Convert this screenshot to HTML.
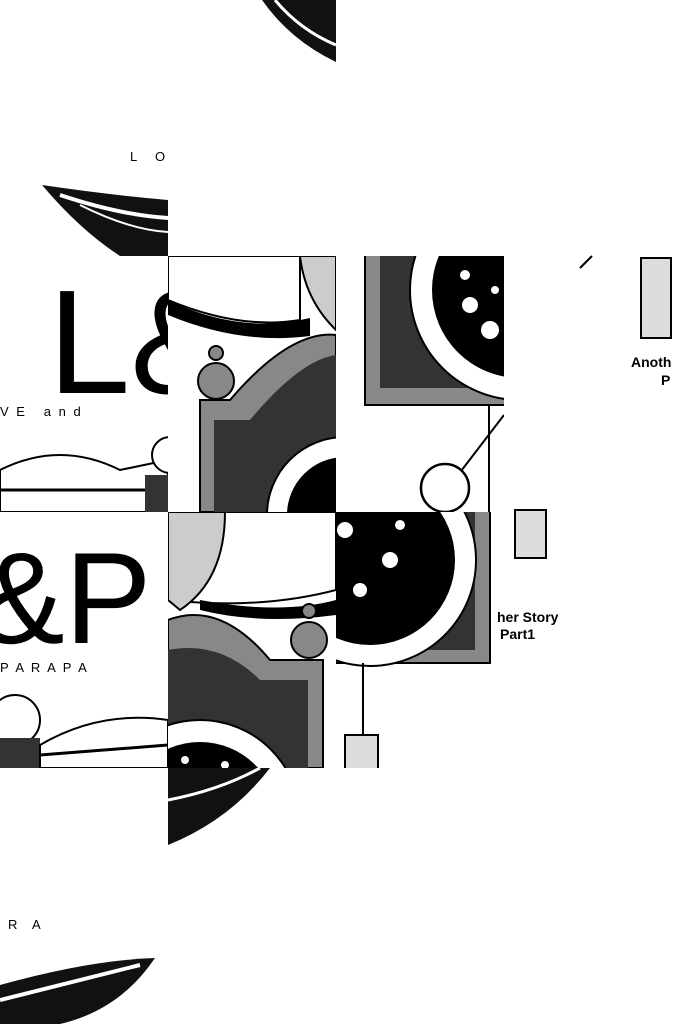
<!DOCTYPE html>
<html><head><style>
html,body{margin:0;padding:0;background:#fff;width:698px;height:1024px;overflow:hidden}
svg{display:block}
text{font-family:"Liberation Sans",sans-serif}
</style></head><body>
<svg width="698" height="1024" viewBox="0 0 698 1024" xmlns="http://www.w3.org/2000/svg">
<defs>
<clipPath id="tA"><rect x="168" y="256" width="168" height="256"/></clipPath>
<clipPath id="tB"><rect x="336" y="256" width="168" height="256"/></clipPath>
<clipPath id="tC"><rect x="168" y="512" width="168" height="256"/></clipPath>
<clipPath id="tD"><rect x="336" y="512" width="168" height="256"/></clipPath>
<clipPath id="t0"><rect x="0" y="0" width="336" height="256"/></clipPath>
<clipPath id="tE"><rect x="0" y="256" width="168" height="256"/></clipPath>
<clipPath id="tF"><rect x="0" y="512" width="168" height="256"/></clipPath>
<clipPath id="tG"><rect x="168" y="768" width="168" height="256"/></clipPath>
<clipPath id="tH"><rect x="0" y="768" width="168" height="256"/></clipPath>
</defs>

<g clip-path="url(#t0)">
<path d="M262 0 Q290 40 336 62 L336 0 Z" fill="#111"/>
<path d="M275 0 Q300 30 336 45" stroke="#fff" stroke-width="3" fill="none"/>
<path d="M42 185 Q110 195 168 200 L168 256 L120 256 Q80 230 42 185Z" fill="#111"/>
<path d="M60 195 Q120 215 168 218" stroke="#fff" stroke-width="4" fill="none"/>
<path d="M80 205 Q130 230 168 232" stroke="#fff" stroke-width="2" fill="none"/>
</g>
<text x="130" y="161" font-size="13">L</text><text x="155" y="161" font-size="13">O</text>

<g clip-path="url(#tE)">
<text x="48" y="393" font-size="148" font-weight="300">L&amp;</text>
<text x="0" y="416" font-size="13" letter-spacing="2">V E &#160;&#160;a n d</text>
<path d="M0 470 Q60 440 120 470 L168 460 L168 512 L0 512Z" fill="#fff" stroke="#000" stroke-width="2"/>
<path d="M0 490 L168 490" stroke="#000" stroke-width="3"/>
<circle cx="170" cy="455" r="18" fill="#fff" stroke="#000" stroke-width="2"/>
<rect x="145" y="475" width="40" height="37" fill="#333"/>
</g>

<g clip-path="url(#tA)">
<path d="M168 256 L300 256 L300 320 Q240 330 168 300Z" fill="#fff" stroke="#000" stroke-width="2"/>
<path d="M168 300 Q240 335 310 318 L310 336 Q240 345 168 315Z" fill="#000"/>
<path d="M300 256 L336 256 L336 330 Q305 300 300 256Z" fill="#ccc" stroke="#000" stroke-width="2"/>
<circle cx="216" cy="353" r="7" fill="#888" stroke="#000" stroke-width="2"/>
<circle cx="216" cy="381" r="18" fill="#888" stroke="#000" stroke-width="2"/>
<path d="M200 400 L230 400 Q290 330 336 335 L336 512 L200 512Z" fill="#888" stroke="#000" stroke-width="2"/>
<path d="M214 420 L250 420 Q300 360 336 355 L336 512 L214 512Z" fill="#333"/>
<circle cx="345" cy="515" r="78" fill="#fff" stroke="#000" stroke-width="2"/>
<circle cx="345" cy="515" r="58" fill="#000"/>
</g>

<g clip-path="url(#tB)">
<rect x="365" y="230" width="160" height="175" fill="#888" stroke="#000" stroke-width="2"/>
<rect x="380" y="230" width="140" height="158" fill="#333"/>
<circle cx="520" cy="290" r="110" fill="#fff" stroke="#000" stroke-width="2"/>
<circle cx="520" cy="290" r="88" fill="#000"/>
<circle cx="470" cy="305" r="8" fill="#fff"/><circle cx="490" cy="330" r="9" fill="#fff"/><circle cx="465" cy="275" r="5" fill="#fff"/><circle cx="495" cy="290" r="4" fill="#fff"/>
<line x1="489" y1="405" x2="489" y2="512" stroke="#000" stroke-width="2"/>
<line x1="504" y1="415" x2="458" y2="475" stroke="#000" stroke-width="2"/>
<circle cx="445" cy="488" r="24" fill="#fff" stroke="#000" stroke-width="2.5"/>
</g>

<rect x="641" y="258" width="30" height="80" fill="#ddd" stroke="#000" stroke-width="2"/>
<path d="M580 268 L592 256" stroke="#000" stroke-width="2"/>
<text x="631" y="367" font-size="14" font-weight="bold">Anoth</text>
<text x="661" y="385" font-size="14" font-weight="bold">P</text>

<g clip-path="url(#tF)">
<text x="-22" y="643" font-size="130" font-weight="300">&amp;P</text>
<text x="0" y="672" font-size="13" letter-spacing="2">P A R A P A</text>
<circle cx="15" cy="720" r="25" fill="#fff" stroke="#000" stroke-width="2"/>
<rect x="0" y="738" width="40" height="30" fill="#333"/>
<path d="M40 745 Q100 710 168 720 L168 768 L40 768Z" fill="#fff" stroke="#000" stroke-width="2"/>
<path d="M40 755 L168 745" stroke="#000" stroke-width="3"/>
</g>

<g clip-path="url(#tC)">
<path d="M168 512 L336 512 L336 590 Q260 610 168 600Z" fill="#fff" stroke="#000" stroke-width="2"/>
<path d="M200 600 Q280 615 336 600 L336 615 Q260 625 200 610Z" fill="#000"/>
<path d="M168 512 L225 512 Q225 580 180 610 L168 600Z" fill="#ccc" stroke="#000" stroke-width="2"/>
<circle cx="309" cy="611" r="7" fill="#888" stroke="#000" stroke-width="2"/>
<circle cx="309" cy="640" r="18" fill="#888" stroke="#000" stroke-width="2"/>
<path d="M168 620 Q220 600 270 660 L323 660 L323 768 L168 768Z" fill="#888" stroke="#000" stroke-width="2"/>
<path d="M168 650 Q220 640 260 680 L308 680 L308 768 L168 768Z" fill="#333"/>
<circle cx="200" cy="820" r="100" fill="#fff" stroke="#000" stroke-width="2"/>
<circle cx="200" cy="820" r="78" fill="#000"/>
<circle cx="185" cy="760" r="4" fill="#fff"/><circle cx="225" cy="765" r="4" fill="#fff"/>
</g>

<g clip-path="url(#tD)">
<rect x="310" y="480" width="180" height="183" fill="#888" stroke="#000" stroke-width="2"/>
<rect x="310" y="480" width="165" height="170" fill="#333"/>
<circle cx="370" cy="560" r="106" fill="#fff" stroke="#000" stroke-width="2"/>
<circle cx="370" cy="560" r="85" fill="#000"/>
<circle cx="345" cy="530" r="8" fill="#fff"/><circle cx="390" cy="560" r="8" fill="#fff"/><circle cx="360" cy="590" r="7" fill="#fff"/><circle cx="400" cy="525" r="5" fill="#fff"/>
<line x1="363" y1="663" x2="363" y2="735" stroke="#000" stroke-width="2"/>
<rect x="345" y="735" width="33" height="40" fill="#ddd" stroke="#000" stroke-width="2"/>
</g>

<rect x="515" y="510" width="31" height="48" fill="#ddd" stroke="#000" stroke-width="2"/>
<text x="497" y="622" font-size="14" font-weight="bold">her Story</text>
<text x="500" y="639" font-size="14" font-weight="bold">Part1</text>

<g clip-path="url(#tG)">
<path d="M168 768 L270 768 Q230 820 168 845Z" fill="#111"/>
<path d="M168 800 Q220 790 260 768" stroke="#fff" stroke-width="3" fill="none"/>
</g>
<text x="8" y="929" font-size="13">R</text><text x="32" y="929" font-size="13">A</text>
<g clip-path="url(#tH)">
<path d="M0 985 Q90 960 155 958 Q120 1010 60 1024 L0 1024Z" fill="#111"/>
<path d="M0 1000 Q80 980 140 965" stroke="#fff" stroke-width="4" fill="none"/>
</g>
</svg>
</body></html>
